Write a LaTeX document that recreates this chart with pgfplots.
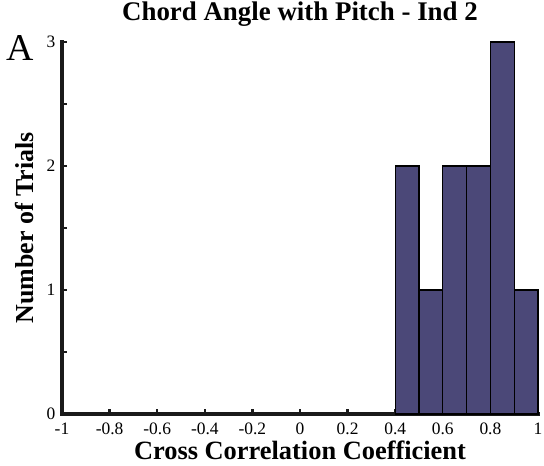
\documentclass[border=0pt]{standalone}
\usepackage{pgfplots}
\pgfplotsset{compat=1.18}
\usepackage{fontspec}
\setmainfont{Liberation Serif}
\definecolor{barfill}{HTML}{4B4878}
\definecolor{axisblack}{HTML}{1A1A1A}
\begin{document}
\begin{tikzpicture}
\path[use as bounding box] (-62bp,-52bp) rectangle (482bp,414bp);
\begin{axis}[
  scale only axis,
  width=476bp, height=372bp,
  xmin=-1, xmax=1, ymin=0, ymax=3,
  clip=false,
  axis x line=bottom, axis y line=left,
  axis line style={-, line width=4.5bp, color=axisblack, line cap=rect},
  tick align=inside,
  major tick length=5bp, minor tick length=5bp,
  every tick/.style={line width=2.5bp, axisblack},
  xtick={-1,-0.8,-0.6,-0.4,-0.2,0,0.2,0.4,0.6,0.8,1},
  xticklabels={-1,-0.8,-0.6,-0.4,-0.2,0,0.2,0.4,0.6,0.8,1},
  ytick={0,1,2,3}, yticklabels={0,1,2,3},
  minor ytick={0.5,1.5,2.5},
  tick label style={font=\fontsize{17.5}{19}\selectfont},
  xticklabel style={anchor=center, yshift=-15bp},
  yticklabel style={anchor=center, xshift=-11bp},
  title={Chord Angle with Pitch - Ind 2},
  title style={at={(axis description cs:0.5,1)}, anchor=center, yshift=22bp,
               font=\fontsize{27}{30}\selectfont\bfseries},
  xlabel={Cross Correlation Coefficient},
  xlabel style={at={(axis description cs:0.5,0)}, anchor=center, yshift=-36bp,
                font=\fontsize{26.5}{30}\selectfont\bfseries},
  ylabel={Number of Trials},
  ylabel style={at={(axis description cs:0,0.5)}, anchor=center, yshift=37bp,
                font=\fontsize{26}{30}\selectfont\bfseries},
]
% histogram counts per 0.1-wide bin, placed at bin centres
\addplot[ybar, bar width=0.1, bar shift=0pt, fill=barfill, draw=black, line width=1.1bp]
  coordinates {(0.45,2) (0.55,1) (0.65,2) (0.75,2) (0.85,3) (0.95,1)};
\end{axis}
\node[font=\fontsize{38}{40}\selectfont] at (-42bp,366bp) {A};
\end{tikzpicture}
\end{document}
